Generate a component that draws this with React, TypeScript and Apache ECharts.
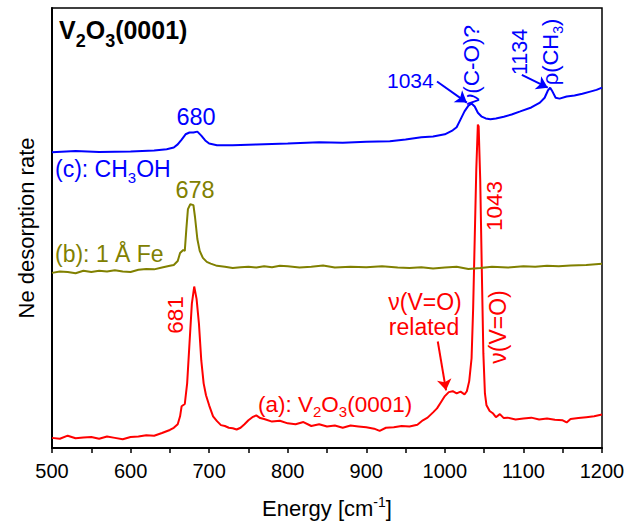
import React, { useEffect, useRef } from 'react';
import * as echarts from 'echarts';

const FONT = '"Liberation Sans", Arial, Helvetica, sans-serif';
const RED = '#ff0000';
const OLIVE = '#808000';
const BLUE = '#0000ff';

const xTicks = [500, 600, 700, 800, 900, 1000, 1100, 1200];

// (a): V2O3(0001)
const energyA = [
  500, 510, 520, 530, 540, 550, 560, 570, 580, 590,
  600, 610, 620, 630, 640, 650, 655, 660, 663, 665,
  669, 672, 675, 678, 681, 684, 687, 690, 693, 696,
  700, 705, 710, 715, 720, 725, 730, 735, 740, 745,
  750, 755, 760, 765, 770, 780, 790, 800, 810, 820,
  830, 840, 850, 860, 870, 880, 890, 900, 910, 917,
  925, 935, 945, 955, 965, 972, 978, 985, 990, 995,
  1000, 1005, 1010, 1015, 1020, 1025, 1028, 1031, 1034, 1036,
  1038, 1040, 1042, 1043, 1045, 1047, 1049, 1051, 1053, 1057,
  1061, 1065, 1070, 1075, 1080, 1090, 1100, 1110, 1120, 1130,
  1140, 1150, 1155, 1160, 1170, 1180, 1190, 1200,
];
const rateA = [
  2.3, 2.1, 2.8, 2.2, 2.4, 2.5, 2.1, 2.6, 2.3, 2.0,
  2.5, 2.6, 2.9, 2.8, 3.4, 4.1, 4.6, 5.4, 7.2, 9.5,
  10.0, 14.7, 23.8, 32.8, 36.7, 33.9, 28.3, 19.9, 14.7, 12.0,
  9.7, 7.2, 6.1, 5.2, 5.0, 4.6, 4.5, 4.2, 4.6, 5.4,
  6.3, 7.0, 7.4, 6.8, 6.6, 6.0, 6.2, 5.6, 5.4, 5.9,
  5.0, 5.4, 4.9, 5.1, 4.6, 5.1, 4.9, 4.7, 4.4, 3.9,
  4.6, 4.7, 5.0, 4.9, 5.3, 6.3, 6.9, 8.1, 9.0, 10.4,
  11.8, 12.7, 12.9, 12.4, 12.8, 12.2, 12.9, 15.2, 20.4, 31.7,
  47.5, 63.3, 73.5, 73.1, 61.1, 40.7, 21.5, 12.4, 9.7, 8.4,
  7.9, 7.0, 7.7, 6.8, 6.9, 6.5, 6.7, 6.9, 6.5, 6.7,
  6.4, 6.3, 5.8, 6.6, 6.8, 7.0, 7.2, 7.6,
];

// (b): 1 Å Fe
const energyB = [
  500, 510, 520, 530, 540, 550, 560, 570, 580, 590,
  600, 610, 620, 630, 640, 650, 655, 660, 663, 667,
  669, 671, 673, 676, 680, 682, 685, 688, 692, 697,
  702, 710, 720, 730, 740, 750, 760, 770, 780, 790,
  800, 815, 830, 845, 860, 880, 900, 920, 940, 955,
  970, 985, 1000, 1015, 1030, 1045, 1060, 1080, 1100, 1115,
  1130, 1145, 1160, 1180, 1200,
];
const rateB = [
  39.8, 40.1, 40.0, 39.7, 40.3, 40.0, 40.3, 40.1, 40.4, 40.1,
  40.0, 40.5, 40.7, 40.6, 41.0, 41.4, 41.6, 42.5, 44.3, 45.0,
  44.8, 49.8, 54.3, 55.4, 55.2, 52.5, 47.5, 44.8, 43.2, 42.3,
  41.9, 41.4, 41.2, 40.9, 41.1, 41.2, 41.0, 41.3, 41.1, 41.4,
  41.3, 41.0, 41.2, 41.5, 41.0, 41.2, 41.1, 41.3, 41.0, 40.9,
  41.1, 40.8, 41.0, 41.2, 40.7, 40.9, 41.2, 41.0, 41.3, 41.2,
  41.4, 41.3, 41.5, 41.6, 41.9,
];

// (c): CH3OH
const energyC = [
  500, 530, 560, 600, 630, 646, 655, 660, 665, 670,
  675, 680, 685, 690, 695, 700, 710, 730, 760, 800,
  840, 870, 900, 930, 950, 970, 985, 1000, 1010, 1015,
  1020, 1025, 1030, 1034, 1038, 1042, 1047, 1052, 1058, 1065,
  1075, 1085, 1096, 1110, 1121, 1127, 1131, 1134, 1137, 1141,
  1146, 1155, 1165, 1175, 1185, 1193, 1200,
];
const rateC = [
  67.2, 67.5, 67.3, 67.4, 67.6, 67.9, 68.3, 69.0, 70.1, 71.3,
  71.7, 71.7, 71.9, 71.0, 69.9, 69.2, 68.8, 68.8, 69.0, 69.2,
  69.5, 69.4, 69.6, 69.7, 70.1, 70.6, 70.8, 71.3, 72.2, 72.9,
  74.7, 76.5, 77.8, 78.3, 77.6, 76.2, 75.3, 74.9, 74.7, 74.9,
  75.3, 75.8, 76.5, 77.4, 78.5, 79.6, 81.2, 81.9, 81.0, 79.6,
  79.4, 79.9, 80.1, 80.5, 81.0, 81.4, 81.9,
];

// annotation arrows (data coordinates: [x1, y1, x2, y2])
const arrowC1 = [990, 83.3, 1028, 78.5];
const arrowC2 = [1098, 84.8, 1131, 81.9];
const arrowA = [991, 24.2, 1001.5, 13.1];

const zip = (xs: number[], ys: number[]) => {
  const n = Math.min(xs.length, ys.length);
  const out: number[][] = [];
  for (let i = 0; i < n; i++) out.push([xs[i], ys[i]]);
  return out;
};

type Part = [string, number]; // 0 main, 1 sub/sup

function richText(parts: Part[], F: number, S: number, D: number, color: string, weight = 'normal') {
  // D: baseline shift of the small tokens (positive = down)
  const off = 0.8465 * (F - S) + D;
  const subPad = off >= 0 ? off : 0;
  const mainPad = off < 0 ? -off : 0;
  const text = parts.map(([t, k]) => `{${k ? 's' : 'm'}|${t}}`).join('');
  const rich = {
    m: { fontSize: F, lineHeight: F, fontFamily: FONT, fontWeight: weight, fill: color, color, verticalAlign: 'top', padding: [mainPad, 0, 0, 0] },
    s: { fontSize: S, lineHeight: S, fontFamily: FONT, fontWeight: weight, fill: color, color, verticalAlign: 'top', padding: [subPad, 0, 0, 0] },
  };
  return { text, rich, mainPad };
}

interface Lab {
  parts: Part[];
  F: number;
  S?: number;
  D?: number;
  color: string;
  weight?: string;
  x: number; // left/center (horizontal) or baseline x (rotated)
  y: number; // baseline y (horizontal) or center y (rotated)
  align?: string;
  rotated?: boolean;
}

function makeLabel(l: Lab) {
  const r = richText(l.parts, l.F, l.S ?? l.F * 0.65, l.D ?? 0, l.color, l.weight ?? 'normal');
  const shift = 0.8465 * l.F + r.mainPad;
  if (l.rotated) {
    return {
      type: 'text',
      x: l.x - shift,
      y: l.y,
      rotation: Math.PI / 2,
      silent: true,
      style: { text: r.text, rich: r.rich, align: 'center', verticalAlign: 'top', fill: l.color, fontFamily: FONT, fontSize: l.F },
    };
  }
  return {
    type: 'text',
    x: l.x,
    y: l.y - shift,
    silent: true,
    style: { text: r.text, rich: r.rich, align: l.align ?? 'left', verticalAlign: 'top', fill: l.color, fontFamily: FONT, fontSize: l.F },
  };
}

const labels: Lab[] = [
  { parts: [['V', 0], ['2', 1], ['O', 0], ['3', 1], ['(0001)', 0]], F: 25, S: 18, D: 9, color: '#000', weight: 'bold', x: 59, y: 38.5 },
  { parts: [['680', 0]], F: 23.5, color: BLUE, x: 196, y: 125, align: 'center' },
  { parts: [['(c): CH', 0], ['3', 1], ['OH', 0]], F: 23, S: 15, D: 6, color: BLUE, x: 55, y: 177 },
  { parts: [['678', 0]], F: 23.5, color: OLIVE, x: 195, y: 198, align: 'center' },
  { parts: [['(b): 1 Å Fe', 0]], F: 23, color: OLIVE, x: 55, y: 262 },
  { parts: [['681', 0]], F: 22.5, color: RED, x: 183, y: 315, rotated: true },
  { parts: [['(a): V', 0], ['2', 1], ['O', 0], ['3', 1], ['(0001)', 0]], F: 22.5, S: 15, D: 5, color: RED, x: 258, y: 412 },
  { parts: [['ν(V=O)', 0]], F: 23, color: RED, x: 425, y: 310, align: 'center' },
  { parts: [['related', 0]], F: 23, color: RED, x: 424, y: 335, align: 'center' },
  { parts: [['1043', 0]], F: 22.5, color: RED, x: 502, y: 206, rotated: true },
  { parts: [['ν(V=O)', 0]], F: 23, color: RED, x: 506, y: 327, rotated: true },
  { parts: [['1034', 0]], F: 21, color: BLUE, x: 387, y: 88 },
  { parts: [['ν(C-O)?', 0]], F: 22.5, color: BLUE, x: 479, y: 65, rotated: true },
  { parts: [['1134', 0]], F: 21.5, color: BLUE, x: 527, y: 52, rotated: true },
  { parts: [['ρ(CH', 0], ['3', 1], [')', 0]], F: 22, S: 14, D: 5, color: BLUE, x: 558, y: 52, rotated: true },
];

const arrowLine = (a: number[], color: string) => ({
  silent: true,
  animation: false,
  symbol: ['none', 'arrow'],
  symbolSize: 11,
  label: { show: false },
  lineStyle: { color, width: 2, type: 'solid' },
  emphasis: { disabled: true },
  data: [[{ coord: [a[0], a[1]] }, { coord: [a[2], a[3]] }]],
});

const xName = richText([['Energy [cm', 0], ['-1', 1], [']', 0]], 22, 14, -10, '#000');

const option: any = {
  animation: false,
  backgroundColor: '#fff',
  grid: { left: 52, right: 34, top: 8, bottom: 75, show: true, borderColor: '#000', borderWidth: 1.5, backgroundColor: 'transparent' },
  xAxis: {
    type: 'value',
    min: xTicks[0],
    max: xTicks[xTicks.length - 1],
    interval: 100,
    axisLine: { show: true, lineStyle: { color: '#000', width: 2 } },
    axisTick: { show: true, inside: false, length: 5, lineStyle: { color: '#000', width: 1.5 } },
    minorTick: { show: true, splitNumber: 2, length: 5, lineStyle: { color: '#000', width: 1.5 } },
    splitLine: { show: false },
    axisLabel: { color: '#000', fontSize: 20, lineHeight: 20, fontFamily: FONT, margin: 13, formatter: (v: number) => String(v) },
    name: xName.text,
    nameLocation: 'middle',
    nameGap: 50 - xName.mainPad,
    nameTextStyle: { rich: xName.rich, fontFamily: FONT, fontSize: 22, color: '#000' },
  },
  yAxis: {
    type: 'value',
    min: 0,
    max: 100,
    axisLine: { show: true, lineStyle: { color: '#000', width: 2 } },
    axisTick: { show: false },
    axisLabel: { show: false },
    splitLine: { show: false },
    name: 'Ne desorption rate',
    nameLocation: 'middle',
    nameGap: 15,
    nameTextStyle: { color: '#000', fontSize: 22, lineHeight: 22, fontFamily: FONT },
  },
  series: [
    {
      type: 'line', name: '(a)', data: zip(energyA, rateA), showSymbol: false, symbol: 'none',
      lineStyle: { color: RED, width: 2 }, itemStyle: { color: RED }, silent: true,
      markLine: arrowLine(arrowA, RED),
    },
    {
      type: 'line', name: '(b)', data: zip(energyB, rateB), showSymbol: false, symbol: 'none',
      lineStyle: { color: OLIVE, width: 2 }, itemStyle: { color: OLIVE }, silent: true,
    },
    {
      type: 'line', name: '(c)', data: zip(energyC, rateC), showSymbol: false, symbol: 'none',
      lineStyle: { color: BLUE, width: 2 }, itemStyle: { color: BLUE }, silent: true,
      markLine: {
        ...arrowLine(arrowC1, BLUE),
        data: [
          [{ coord: [arrowC1[0], arrowC1[1]] }, { coord: [arrowC1[2], arrowC1[3]] }],
          [{ coord: [arrowC2[0], arrowC2[1]] }, { coord: [arrowC2[2], arrowC2[3]] }],
        ],
      },
    },
  ],
  graphic: labels.map(makeLabel),
};

export default function App() {
  const ref = useRef<HTMLDivElement>(null);
  useEffect(() => {
    document.body.style.margin = '0';
    const chart = echarts.init(ref.current!, null, { renderer: 'svg' });
    chart.setOption(option);
    return () => chart.dispose();
  }, []);
  return <div ref={ref} style={{ width: 636, height: 525 }} />;
}
